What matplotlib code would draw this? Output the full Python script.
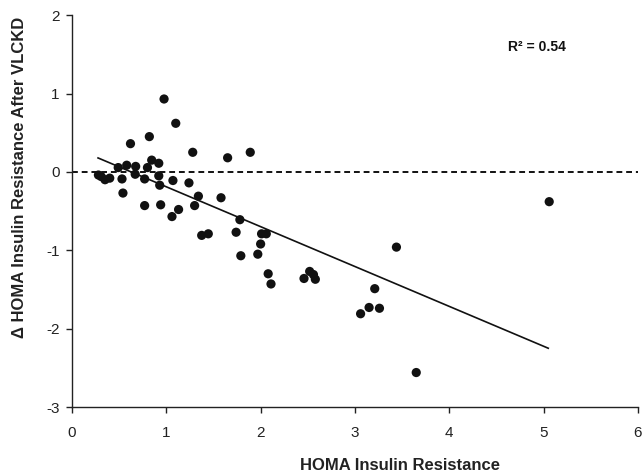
import matplotlib
matplotlib.use("Agg")
import matplotlib.pyplot as plt

plt.rcParams["font.family"] = ["Liberation Sans", "DejaVu Sans"]
plt.rcParams["axes.unicode_minus"] = False

# ---------- data ----------
homa_ir = [0.28, 0.31, 0.35, 0.40, 0.49, 0.53, 0.54, 0.58, 0.62, 0.67, 0.675,
           0.77, 0.77, 0.80, 0.82, 0.845, 0.92, 0.92, 0.93, 0.94, 0.976,
           1.06, 1.07, 1.10, 1.13, 1.24, 1.28, 1.30, 1.34, 1.375, 1.445,
           1.58, 1.65, 1.74, 1.78, 1.79, 1.89, 1.97, 2.00, 2.01, 2.06,
           2.08, 2.11, 2.46, 2.52, 2.56, 2.58, 3.06, 3.15, 3.21, 3.26,
           3.44, 3.65, 5.06]
delta_ir = [-0.04, -0.06, -0.10, -0.08, 0.055, -0.09, -0.27, 0.085, 0.36, -0.03, 0.07,
            -0.09, -0.43, 0.055, 0.45, 0.15, 0.11, -0.05, -0.17, -0.42, 0.93,
            -0.57, -0.11, 0.62, -0.48, -0.14, 0.25, -0.43, -0.31, -0.81, -0.79,
            -0.33, 0.18, -0.77, -0.61, -1.07, 0.25, -1.05, -0.92, -0.79, -0.79,
            -1.30, -1.43, -1.36, -1.27, -1.31, -1.37, -1.81, -1.73, -1.49, -1.74,
            -0.96, -2.56, -0.38]

# regression line end points
fit_x = [0.276, 5.05]
fit_y = [0.178, -2.25]
r2_text = "R² = 0.54"

# ---------- plot ----------
fig = plt.figure(figsize=(6.43, 4.73), dpi=100)
ax = fig.add_axes([0.112, 0.1395, 0.88, 0.8285])

ax.axhline(0, color="#111111", lw=1.4, ls=(0, (3, 2)), zorder=1)
ax.plot(fit_x, fit_y, color="#111111", lw=1.2, zorder=2)
ax.scatter(homa_ir, delta_ir, s=44, color="#111111", edgecolors="none", zorder=3)

ax.set_xlim(0, 6)
ax.set_ylim(-3, 2)
ax.set_xticks(range(0, 7))
ax.set_yticks(range(-3, 3))

for s in ("top", "right"):
    ax.spines[s].set_visible(False)
for s in ("left", "bottom"):
    ax.spines[s].set_linewidth(1.0)
    ax.spines[s].set_color("#222222")
ax.tick_params(direction="out", length=4, width=1, colors="#222222", labelsize=11)
ax.tick_params(axis="x", pad=10)
ax.tick_params(axis="y", pad=5)

ax.set_xlabel("HOMA Insulin Resistance", fontsize=12, fontweight="bold", color="#222222")
ax.set_ylabel("Δ HOMA Insulin Resistance After VLCKD", fontsize=12, fontweight="bold", color="#222222")
ax.xaxis.set_label_coords(0.58, -0.13)
ax.yaxis.set_label_coords(-0.08, 0.585)

ax.text(4.62, 1.59, r2_text, fontsize=10, fontweight="bold", color="#111111", va="center")

fig.savefig("out.png", dpi=100)
